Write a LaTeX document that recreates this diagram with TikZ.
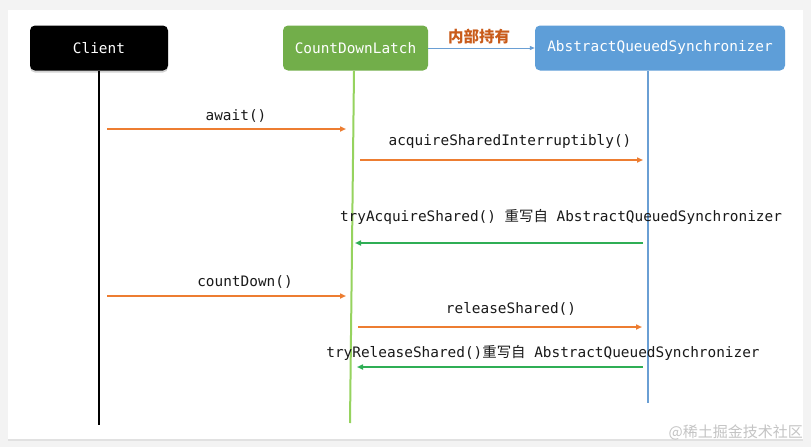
\documentclass[tikz,border=0pt]{standalone}
\usepackage{fontspec}
\setmonofont{DejaVu Sans Mono}
\newfontfamily\cjk{Noto Sans CJK SC}
\usetikzlibrary{arrows.meta,shadows}
\definecolor{msgorange}{HTML}{ED7D31}
\definecolor{retgreen}{HTML}{2FAE55}
\definecolor{lifegreen}{HTML}{96D35F}
\definecolor{boxgreen}{HTML}{72AE4A}
\definecolor{boxblue}{HTML}{5E9ED8}
\definecolor{lifeblue}{HTML}{6A9FD4}
\definecolor{holdcol}{HTML}{C95B1A}
\definecolor{bggray}{HTML}{F3F3F3}
\definecolor{wmgray}{HTML}{C4C4C4}
\tikzset{
  actor/.style={rounded corners=5pt, minimum height=45pt, inner sep=0pt, text=white,
    font=\ttfamily\fontsize{14.4}{17}\selectfont},
  msg/.style={draw=msgorange, line width=1.8pt, -{Triangle[length=6pt,width=5pt]}},
  ret/.style={draw=retgreen, line width=1.8pt, -{Triangle[length=6pt,width=5pt]}},
  lbl/.style={font=\ttfamily\fontsize{14.4}{17}\selectfont, text=black!90, inner sep=0pt},
}
\begin{document}
\begin{tikzpicture}[x=1pt,y=-1pt]
\useasboundingbox (0,0) rectangle (811,447);
\fill[bggray] (0,0) rectangle (811,447);
\fill[white, drop shadow={opacity=0.15, shadow xshift=0pt, shadow yshift=-1.5pt}] (8,10) rectangle (803,439);

% actors
\node[actor, fill=black, minimum width=138pt, drop shadow={opacity=0.35, shadow xshift=0pt, shadow yshift=-2pt}] (client) at (99,48) {Client};
\node[actor, fill=boxgreen, minimum width=145pt] (cdl) at (355.5,48) {CountDownLatch};
\node[actor, fill=boxblue, minimum width=250pt] (aqs) at (660,48) {AbstractQueuedSynchronizer};

% holds
\draw[draw=lifeblue, line width=1pt, -{Triangle[length=5pt,width=4pt]}] (cdl.east) -- (aqs.west);
\node[font=\cjk\bfseries\fontsize{15.5}{17}\selectfont, text=holdcol, inner sep=0pt] (hold) at (479,37) {内部持有};

% lifelines
\coordinate (cEnd) at (99,425);
\coordinate (lTop) at (354,71);
\coordinate (lEnd) at (350,423);
\coordinate (aTop) at (648,71);
\coordinate (aEnd) at (648,403);
\draw[black, line width=2pt] (client.south) -- (cEnd);
\draw[lifegreen, line width=2pt] (lTop) -- (lEnd);
\draw[lifeblue, line width=2pt] (aTop) -- (aEnd);

% messages
\coordinate (m1s) at (107,129); \coordinate (m1e) at (346,129);
\draw[msg] (m1s) -- (m1e);
\node[lbl] (l1) at (236,116) {await()};

\coordinate (m2s) at (360,160); \coordinate (m2e) at (643,160);
\draw[msg] (m2s) -- (m2e);
\node[lbl] (l2) at (510,142) {acquireSharedInterruptibly()};

\coordinate (m3s) at (643,243); \coordinate (m3e) at (355,243);
\draw[ret] (m3s) -- (m3e);
\node[lbl] (l3) at (561,217) {tryAcquireShared() {\cjk 重写自} AbstractQueuedSynchronizer};

\coordinate (m4s) at (107,296); \coordinate (m4e) at (346,296);
\draw[msg] (m4s) -- (m4e);
\node[lbl] (l4) at (245,282) {countDown()};

\coordinate (m5s) at (358,327); \coordinate (m5e) at (642,327);
\draw[msg] (m5s) -- (m5e);
\node[lbl] (l5) at (511,309) {releaseShared()};

\coordinate (m6s) at (643,367); \coordinate (m6e) at (357,367);
\draw[ret] (m6s) -- (m6e);
\node[lbl] (l6) at (543,353) {tryReleaseShared(){\cjk 重写自} AbstractQueuedSynchronizer};

% watermark
\node[font=\cjk\fontsize{15}{17}\selectfont, text=wmgray, inner sep=0pt, anchor=east] (wm) at (803,432) {@稀土掘金技术社区};
\end{tikzpicture}
\end{document}
